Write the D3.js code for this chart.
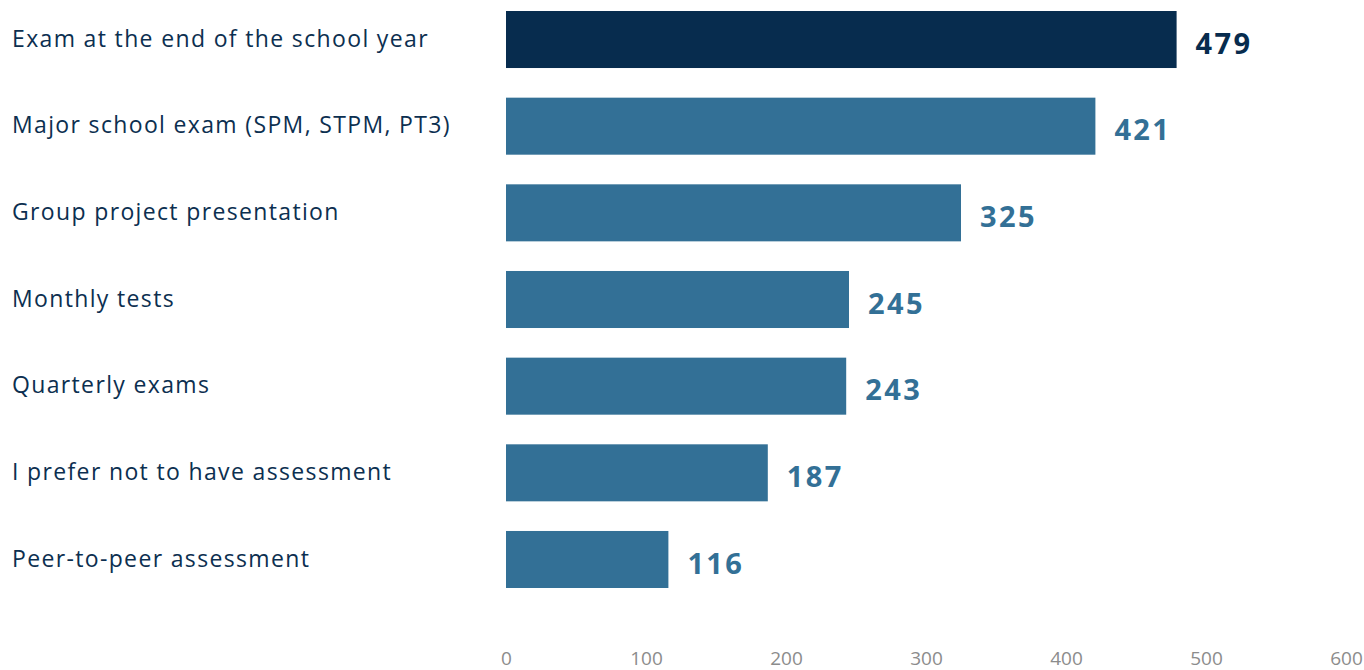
<!DOCTYPE html>
<html>
<head>
<meta charset="utf-8">
<script src="https://cdn.jsdelivr.net/npm/d3@7"></script>
<style>
  html, body { margin: 0; padding: 0; background: #ffffff; }
  svg { display: block; }
</style>
</head>
<body>
<svg id="chart" width="1364" height="670"></svg>
<script>
// Preferred assessment types, count of responses
const categories = [
  "Exam at the end of the school year",
  "Major school exam (SPM, STPM, PT3)",
  "Group project presentation",
  "Monthly tests",
  "Quarterly exams",
  "I prefer not to have assessment",
  "Peer-to-peer assessment"
];
const values = [479, 421, 325, 245, 243, 187, 116];
const tickValues = [0, 100, 200, 300, 400, 500, 600];

const highlightColor = "#072c4e";
const barColor = "#337096";
const textColor = "#0c2f50";
const fontFamily = "'Open Sans', Lato, sans-serif";

const svg = d3.select("#chart");

const x = d3.scaleLinear().domain([0, 600]).range([506, 1346]);
const y = d3.scaleBand().domain(categories).range([11, 588]).paddingInner(0.342).paddingOuter(0);

const data = categories.map((c, i) => ({ category: c, value: values[i], first: i === 0 }));

// bars
svg.append("g").selectAll("rect")
  .data(data)
  .join("rect")
  .attr("x", x(0))
  .attr("y", d => y(d.category))
  .attr("width", d => x(d.value) - x(0))
  .attr("height", y.bandwidth())
  .attr("fill", d => d.first ? highlightColor : barColor);

// category labels
svg.append("g").selectAll("text")
  .data(data)
  .join("text")
  .attr("x", 12)
  .attr("y", d => y(d.category) + y.bandwidth() / 2 - 1)
  .attr("dy", "0.35em")
  .attr("font-family", fontFamily)
  .attr("font-size", 23)
  .attr("letter-spacing", 1.35)
  .attr("fill", textColor)
  .text(d => d.category);

// value labels
svg.append("g").selectAll("text")
  .data(data)
  .join("text")
  .attr("x", d => x(d.value) + 19)
  .attr("y", d => y(d.category) + y.bandwidth() / 2 + 4)
  .attr("dy", "0.35em")
  .attr("font-family", fontFamily)
  .attr("font-weight", 700)
  .attr("font-size", 29)
  .attr("letter-spacing", 2.4)
  .attr("fill", d => d.first ? highlightColor : barColor)
  .text(d => d.value);

// x axis (labels only)
const axis = svg.append("g")
  .attr("transform", "translate(0,651)")
  .call(d3.axisBottom(x).tickValues(tickValues).tickSize(0).tickPadding(0));
axis.select(".domain").remove();
axis.selectAll("text")
  .attr("font-family", fontFamily)
  .attr("font-weight", 400)
  .attr("font-size", 19)
  .attr("fill", "#8c8c8c")
  .attr("dy", "0.71em");
</script>
</body>
</html>
